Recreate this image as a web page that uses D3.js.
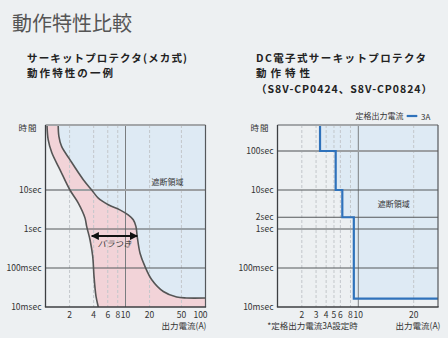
<!DOCTYPE html>
<html><head><meta charset="utf-8">
<script src="https://cdn.jsdelivr.net/npm/d3@7"></script>
<style>
html,body{margin:0;padding:0;background:#edf0f2;}
svg{display:block;font-family:"Noto Sans CJK JP","Noto Sans",sans-serif;}
</style></head>
<body><svg id="c" width="448" height="338"></svg>
<script>
// ---------- data ----------
const mechTicksX = [2, 4, 6, 8, 10, 20, 50, 100];
const elecTicksX = [2, 3, 4, 5, 6, 8, 10, 20];
const mechTicksY = [10, 1, 0.1, 0.01];
const mechTickLabelsY = ["10sec", "1sec", "100msec", "10msec"];
const elecTicksY = [100, 10, 2, 1, 0.1, 0.01];
const elecTickLabelsY = ["100sec", "10sec", "2sec", "1sec", "100msec", "10msec"];

// mechanical circuit protector: lower and upper bound of the spread band (current A, time s)
const mechLowI = [1.04, 1.08, 1.2, 1.52, 2.02, 2.57, 3.12, 3.27, 3.6, 3.89, 4.04, 4.28, 4.57, 4.7];
const mechLowT = [600, 195, 90, 33, 10, 4.6, 1.9, 1.17, 0.53, 0.2, 0.061, 0.0187, 0.01, 0.008];
const mechHighI = [1.44, 1.47, 1.59, 2.02, 2.97, 3.78, 4.57, 6.1, 8.5, 10.8, 12.5, 13.5, 14.0, 15.2, 17.5, 21.3, 29.7, 43.6, 58, 100];
const mechHighT = [600, 237, 131, 60, 18.4, 10, 6.2, 4.2, 3.1, 2.3, 1.73, 1.17, 0.65, 0.24, 0.11, 0.05, 0.025, 0.018, 0.017, 0.017];
const spreadI = [3.78, 14.0];
const spreadT = 0.66;

// electronic circuit protector S8V-CP (rated 3A) step characteristic
const stepI = [3.36, 5.25, 6.34, 8.8];
const stepT = [100, 10, 2, 0.0164];

// ---------- layout ----------
const svg = d3.select("#c");
const C = {bg:"#edf0f2", blue:"#deeaf4", pink:"#f2d3d8", curve:"#555", line:"#2f72bb", txt:"#333"};
const TOP = 125, BOT = 307;
const yS = d3.scaleLog().domain([0.01, 10]).range([BOT, 190]);
const tTop = yS.invert(TOP);

// titles
svg.append("text").attr("x", 12).attr("y", 31).attr("font-size", 20).attr("fill", "#555").text("動作特性比較");
function sub(x, lines) {
  lines.forEach(([y, s, len]) => {
    svg.append("text").attr("font-size", 10.5).attr("font-weight", "bold").attr("fill", "#222")
      .attr("x", x).attr("y", y).attr("textLength", len).attr("lengthAdjust", "spacing").text(s);
  });
}
sub(27, [[62, "サーキットプロテクタ(メカ式)", 160], [77.3, "動作特性の一例", 86]]);
sub(256, [[62, "DC電子式サーキットプロテクタ", 170], [77.3, "動作特性", 54], [93, "（S8V-CP0424、S8V-CP0824）", 176]]);

function frame(g, x0, x1, xS, ticksX, ticksY, labelsY, solidX) {
  ticksX.forEach(v => {
    const x = xS(v);
    if (x >= x1 - 1) return;
    g.append("line").attr("x1", x).attr("x2", x).attr("y1", TOP).attr("y2", BOT)
      .attr("stroke", v === solidX ? "#7a7d80" : "#c3c7cb")
      .attr("stroke-width", 1)
      .attr("stroke-dasharray", v === solidX ? null : "3,2");
  });
  ticksY.forEach((v, i) => {
    if (v === 0.01) return;
    g.append("line").attr("x1", x0).attr("x2", x1).attr("y1", yS(v)).attr("y2", yS(v))
      .attr("stroke", i === 0 ? "#9c9fa2" : "#55585b").attr("stroke-width", i === 0 ? 2 : 1);
  });
  ticksY.forEach((v, i) => {
    g.append("text").attr("x", x0 - 4).attr("y", yS(v)).attr("dy", "0.35em")
      .attr("text-anchor", "end").attr("font-size", 8.5).attr("fill", C.txt).text(labelsY[i]);
  });
  g.append("text").attr("x", x0 - 8).attr("y", 131).attr("text-anchor", "end")
    .attr("font-size", 8.5).attr("fill", C.txt).attr("letter-spacing", 1).text("時間");
  ticksX.forEach(v => {
    const x = xS(v);
    g.append("text").attr("x", x >= x1 - 1 ? x - 5 : x).attr("y", 317.5).attr("text-anchor", "middle")
      .attr("font-size", 8.5).attr("fill", C.txt).text(v);
  });
}

function border(g, x0, x1) {
  g.append("line").attr("x1", x0).attr("x2", x1).attr("y1", TOP).attr("y2", TOP).attr("stroke", "#a3a6a9").attr("stroke-width", 2);
  g.append("line").attr("x1", x1).attr("x2", x1).attr("y1", TOP).attr("y2", BOT).attr("stroke", "#55585b").attr("stroke-width", 1.2);
  g.append("line").attr("x1", x0).attr("x2", x0).attr("y1", TOP).attr("y2", BOT).attr("stroke", "#3c3f42").attr("stroke-width", 1.3);
  g.append("line").attr("x1", x0 - 0.6).attr("x2", x1 + 0.6).attr("y1", BOT).attr("y2", BOT).attr("stroke", "#3c3f42").attr("stroke-width", 1.5);
}

// ---------- left chart ----------
{
  const x0 = 45.5, x1 = 205.5;
  const xS = d3.scaleLog().domain([1, 100]).range([x0, x1]);
  const g = svg.append("g");
  svg.append("clipPath").attr("id", "clipL").append("rect").attr("x", x0).attr("y", TOP).attr("width", x1 - x0).attr("height", BOT - TOP);
  const low = mechLowI.map((v, i) => [xS(v), yS(mechLowT[i])]);
  const high = mechHighI.map((v, i) => [xS(v), yS(mechHighT[i])]);
  const line = d3.line().curve(d3.curveCatmullRom.alpha(0.5));
  const fills = g.append("g").attr("clip-path", "url(#clipL)");
  const hi = line(high);
  fills.append("path").attr("fill", C.blue)
    .attr("d", hi + `L${x1 + 2},${high[high.length - 1][1]}L${x1 + 2},${TOP - 5}L${high[0][0]},${TOP - 5}Z`);
  const lo = line(low);
  const hiRev = line(high.slice().reverse());
  fills.append("path").attr("fill", C.pink)
    .attr("d", lo + `L${x1 + 2},${BOT + 5}L${x1 + 2},${high[high.length - 1][1]}` + hiRev.replace(/^M/, "L") + "Z");
  frame(g, x0, x1, xS, mechTicksX, mechTicksY, mechTickLabelsY, 10);
  const curves = g.append("g").attr("clip-path", "url(#clipL)");
  [lo, hi].forEach(d => curves.append("path").attr("d", d).attr("fill", "none").attr("stroke", C.curve).attr("stroke-width", 1.6));
  border(g, x0, x1);
  const defs = svg.append("defs");
  defs.append("marker").attr("id", "ah").attr("viewBox", "0 0 10 10").attr("refX", 9).attr("refY", 5)
    .attr("markerWidth", 4).attr("markerHeight", 4).attr("orient", "auto-start-reverse")
    .append("path").attr("d", "M0,0L10,5L0,10Z").attr("fill", "#111");
  g.append("line").attr("x1", xS(spreadI[0])).attr("x2", xS(spreadI[1])).attr("y1", yS(spreadT)).attr("y2", yS(spreadT))
    .attr("stroke", "#111").attr("stroke-width", 2).attr("marker-start", "url(#ah)").attr("marker-end", "url(#ah)");
  g.append("text").attr("x", (xS(spreadI[0]) + xS(spreadI[1])) / 2).attr("y", yS(spreadT) + 11).attr("text-anchor", "middle")
    .attr("font-size", 8.5).attr("font-style", "italic").attr("fill", C.txt).text("バラつき");
  g.append("text").attr("x", xS(33.5)).attr("y", yS(15.4)).attr("dy", "0.35em").attr("text-anchor", "middle")
    .attr("font-size", 8).attr("fill", C.txt).text("遮断領域");
  g.append("text").attr("x", 206.5).attr("y", 329).attr("text-anchor", "end")
    .attr("font-size", 8.5).attr("fill", C.txt).text("出力電流(A)");
}

// ---------- right chart ----------
{
  const x0 = 277.5, x1 = 438;
  const xS = d3.scaleLog().domain([1, 10, 20]).range([x0, 358.3, 413.7]);
  const iMax = xS.invert(x1);
  const g = svg.append("g");
  const pts = [[stepI[0], tTop]];
  stepI.forEach((v, i) => {
    pts.push([v, stepT[i]]);
    pts.push([i + 1 < stepI.length ? stepI[i + 1] : iMax, stepT[i]]);
  });
  const px = pts.map(p => [xS(p[0]), yS(p[1])]);
  g.append("path").attr("fill", C.blue)
    .attr("d", d3.line()(px.concat([[x1, TOP]])) + "Z");
  frame(g, x0, x1, xS, elecTicksX, elecTicksY, elecTickLabelsY, 10);
  g.append("path").attr("d", d3.line()(px)).attr("fill", "none").attr("stroke", C.line).attr("stroke-width", 2.2);
  border(g, x0, x1);
  g.append("text").attr("x", xS(15.6)).attr("y", yS(4.3)).attr("dy", "0.35em").attr("text-anchor", "middle")
    .attr("font-size", 8).attr("fill", C.txt).text("遮断領域");
  g.append("text").attr("x", 403.5).attr("y", 119).attr("text-anchor", "end").attr("font-size", 8).attr("fill", C.txt).text("定格出力電流");
  g.append("line").attr("x1", 406.7).attr("x2", 417.3).attr("y1", 116).attr("y2", 116).attr("stroke", C.line).attr("stroke-width", 2.2);
  g.append("text").attr("x", 421).attr("y", 119.5).attr("font-size", 8).attr("fill", C.txt).text("3A");
  g.append("text").attr("x", 312.5).attr("y", 329).attr("text-anchor", "middle")
    .attr("font-size", 8.5).attr("fill", C.txt).text("*定格出力電流3A設定時");
  g.append("text").attr("x", 440.5).attr("y", 329).attr("text-anchor", "end")
    .attr("font-size", 8.5).attr("fill", C.txt).text("出力電流(A)");
}
</script></body></html>
